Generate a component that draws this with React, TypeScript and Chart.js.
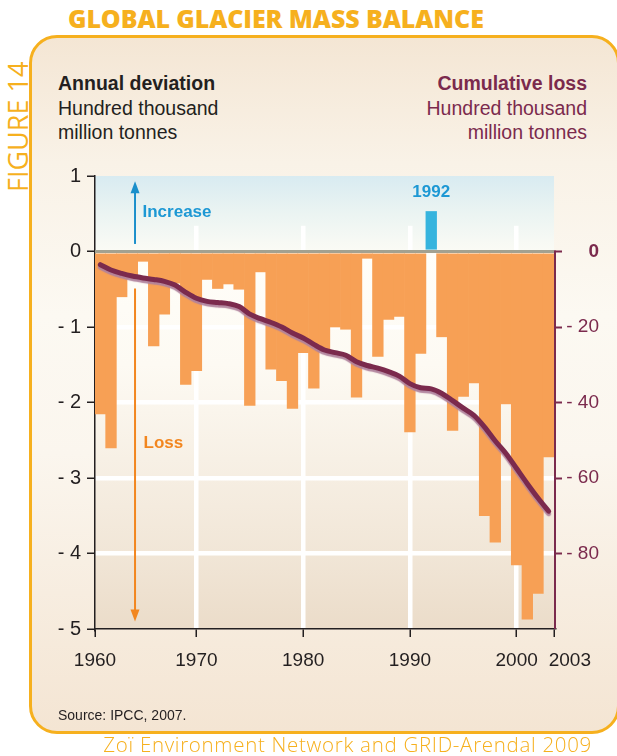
import React, { useEffect, useRef } from "react";
import { Chart, registerables } from "chart.js";

Chart.register(...registerables);

// ---------------- data ----------------
const years = [
  1961, 1962, 1963, 1964, 1965, 1966, 1967, 1968, 1969, 1970,
  1971, 1972, 1973, 1974, 1975, 1976, 1977, 1978, 1979, 1980,
  1981, 1982, 1983, 1984, 1985, 1986, 1987, 1988, 1989, 1990,
  1991, 1992, 1993, 1994, 1995, 1996, 1997, 1998, 1999, 2000,
  2001, 2002, 2003,
];

// Annual deviation, hundred thousand million tonnes (left axis)
const annualDeviation = [
  -2.15, -2.6, -0.6, -0.36, -0.13, -1.25, -0.83, -0.42, -1.76, -1.58,
  -0.37, -0.49, -0.43, -0.5, -2.04, -0.27, -1.56, -1.71, -2.08, -1.34,
  -1.81, -1.33, -1.0, -1.03, -1.93, -0.09, -1.39, -0.9, -0.86, -2.39,
  -1.35, 0.53, -1.13, -2.37, -1.92, -1.74, -3.5, -3.85, -2.02, -4.15,
  -4.87, -4.53, -2.72,
];

// Cumulative loss, hundred thousand million tonnes (right axis)
const cumulativeLoss = [
  -3.5, -4.9, -5.8, -6.5, -7.0, -7.4, -7.9, -8.9, -10.8, -12.4,
  -13.2, -13.5, -13.8, -14.6, -16.6, -17.8, -18.8, -20.0, -21.6, -22.9,
  -24.6, -26.1, -26.8, -27.5, -29.2, -30.2, -30.9, -31.8, -33.0, -35.0,
  -36.1, -36.4, -37.6, -39.5, -41.5, -43.4, -46.5, -50.2, -53.5, -57.5,
  -61.5, -65.3, -68.8,
];

const xTickValues = [1960.5, 1970, 1980, 1990, 2000, 2003.5];
const xTickLabels = ["1960", "1970", "1980", "1990", "2000", "      2003"];
const xGridYears = [1970, 1980, 1990, 2000];
const leftTicks = [1, 0, -1, -2, -3, -4, -5];
const leftGridValues = [-1, -2, -3, -4];
const rightTicks = [0, -20, -40, -60, -80];

// ---------------- styles ----------------
const FONT = "'Liberation Sans', Arial, Helvetica, sans-serif";
const GOLD = "#f6b01e";
const ORANGE = "#f7a055";
const BLUE_BAR = "#36b4de";
const BLUE_TEXT = "#1d98d4";
const LOSS_TEXT = "#f2861f";
const MAROON = "#7b2a4d";
const AXIS = "#231f20";

const fmtMinus = (v: number) => (v < 0 ? "- " + Math.abs(v) : String(v));

function topGradient(ctx: CanvasRenderingContext2D, top: number, bottom: number) {
  const g = ctx.createLinearGradient(0, top, 0, bottom);
  g.addColorStop(0, "#d8ebf1");
  g.addColorStop(0.5, "#ebf4f2");
  g.addColorStop(1, "#fbfbf5");
  return g;
}

const decorPlugin = {
  id: "decor",
  beforeDraw(chart: any) {
    const { ctx, chartArea: a, scales } = chart;
    const y0 = scales.y.getPixelForValue(0);
    ctx.save();
    ctx.fillStyle = topGradient(ctx, a.top, y0);
    ctx.fillRect(a.left, a.top, a.right - a.left, y0 - a.top);
    const g = ctx.createLinearGradient(0, y0, 0, a.bottom);
    g.addColorStop(0, "#fffef9");
    g.addColorStop(0.3, "#fdfaf3");
    g.addColorStop(0.55, "#f7f0e5");
    g.addColorStop(0.8, "#f1e6d7");
    g.addColorStop(1, "#ebdcc9");
    ctx.fillStyle = g;
    ctx.fillRect(a.left, y0, a.right - a.left, a.bottom - y0);
    ctx.restore();
  },
  beforeDatasetsDraw(chart: any) {
    // upper part of the "increase" band hides the vertical grid lines
    const { ctx, chartArea: a, scales } = chart;
    const y0 = scales.y.getPixelForValue(0);
    const yCut = scales.y.getPixelForValue(0.34);
    ctx.save();
    ctx.fillStyle = topGradient(ctx, a.top, y0);
    ctx.fillRect(a.left + 1, a.top, a.right - a.left - 1, yCut - a.top);
    ctx.restore();
  },
  beforeDatasetDraw(chart: any, args: any) {
    if (args.meta.type === "line") {
      const ctx = chart.ctx;
      ctx.save();
      ctx.shadowColor = "rgba(176,130,156,0.95)";
      ctx.shadowOffsetY = 2.5;
      ctx.shadowBlur = 1;
    }
  },
  afterDatasetDraw(chart: any, args: any) {
    if (args.meta.type === "line") chart.ctx.restore();
  },
  afterDatasetsDraw(chart: any) {
    const { ctx, chartArea: a, scales } = chart;
    const xs = scales.x;
    const ys = scales.y;
    const y0 = ys.getPixelForValue(0);
    ctx.save();
    // zero line
    ctx.strokeStyle = "#a3a190";
    ctx.lineWidth = 3;
    ctx.beginPath();
    ctx.moveTo(a.left, y0);
    ctx.lineTo(a.right, y0);
    ctx.stroke();

    const ax = xs.getPixelForValue(1964.25);
    // increase arrow
    const upBottom = ys.getPixelForValue(0.1);
    const upTip = ys.getPixelForValue(0.93);
    ctx.strokeStyle = "#1a8fcb";
    ctx.fillStyle = "#1a8fcb";
    ctx.lineWidth = 2;
    ctx.beginPath();
    ctx.moveTo(ax, upBottom);
    ctx.lineTo(ax, upTip + 10);
    ctx.stroke();
    ctx.beginPath();
    ctx.moveTo(ax, upTip);
    ctx.lineTo(ax - 4.5, upTip + 12);
    ctx.lineTo(ax + 4.5, upTip + 12);
    ctx.closePath();
    ctx.fill();

    // loss arrow
    const dnTop = ys.getPixelForValue(-0.49);
    const dnTip = ys.getPixelForValue(-4.9);
    ctx.strokeStyle = "#f2861f";
    ctx.fillStyle = "#f2861f";
    ctx.beginPath();
    ctx.moveTo(ax, dnTop);
    ctx.lineTo(ax, dnTip - 10);
    ctx.stroke();
    ctx.beginPath();
    ctx.moveTo(ax, dnTip);
    ctx.lineTo(ax - 4.5, dnTip - 12);
    ctx.lineTo(ax + 4.5, dnTip - 12);
    ctx.closePath();
    ctx.fill();

    // labels
    ctx.textBaseline = "middle";
    ctx.font = `bold 17px ${FONT}`;
    ctx.fillStyle = BLUE_TEXT;
    ctx.textAlign = "left";
    ctx.fillText("Increase", xs.getPixelForValue(1964.95), ys.getPixelForValue(0.52));
    ctx.textAlign = "center";
    ctx.fillText("1992", xs.getPixelForValue(1992), ys.getPixelForValue(0.79));
    ctx.fillStyle = LOSS_TEXT;
    ctx.textAlign = "left";
    ctx.fillText("Loss", xs.getPixelForValue(1965.05), ys.getPixelForValue(-2.54));
    ctx.restore();
  },
  afterDraw(chart: any) {
    const { ctx, chartArea: a, scales } = chart;
    const y0 = scales.y2.getPixelForValue(0);
    ctx.save();
    ctx.strokeStyle = MAROON;
    ctx.lineWidth = 2;
    ctx.beginPath();
    ctx.moveTo(a.right + 1, y0 - 1);
    ctx.lineTo(a.right + 1, a.bottom);
    ctx.stroke();
    ctx.restore();
  },
};

function GlacierChart() {
  const ref = useRef<HTMLCanvasElement | null>(null);
  useEffect(() => {
    if (!ref.current) return;
    const chart = new Chart(ref.current, {
      type: "bar",
      data: {
        datasets: [
          {
            type: "line",
            label: "Cumulative loss",
            data: years.map((yr, i) => ({ x: yr, y: cumulativeLoss[i] })),
            yAxisID: "y2",
            xAxisID: "x",
            borderColor: MAROON,
            borderWidth: 5,
            pointRadius: 0,
            cubicInterpolationMode: "monotone",
            borderCapStyle: "round",
            borderJoinStyle: "round",
            order: 0,
          } as any,
          {
            type: "bar",
            label: "Annual deviation",
            data: years.map((yr, i) => ({ x: yr, y: annualDeviation[i] })),
            yAxisID: "y",
            xAxisID: "x",
            backgroundColor: annualDeviation.map((v) => (v > 0 ? BLUE_BAR : ORANGE)),
            borderWidth: 0,
            barPercentage: 1,
            categoryPercentage: 1,
            order: 1,
          } as any,
        ],
      },
      options: {
        animation: false,
        responsive: false,
        events: [],
        layout: { padding: { left: 0, right: 18, top: 176, bottom: 67 } },
        plugins: { legend: { display: false }, tooltip: { enabled: false } },
        scales: {
          x: {
            type: "linear",
            min: 1960.5,
            max: 2003.5,
            offset: false,
            afterBuildTicks: (s: any) => {
              s.ticks = xTickValues.map((v) => ({ value: v }));
            },
            afterFit: (s: any) => {
              s.height = 60;
            },
            grid: {
              offset: false,
              color: (c: any) =>
                c.tick && xGridYears.includes(c.tick.value) ? "#ffffff" : "rgba(0,0,0,0)",
              lineWidth: 4.5,
              tickColor: AXIS,
              tickWidth: 1.5,
              tickLength: 8,
            },
            border: { color: AXIS, width: 1.5 },
            ticks: {
              callback: (_v: any, i: number) => xTickLabels[i],
              font: { family: FONT, size: 19 },
              color: AXIS,
              padding: 12,
              maxRotation: 0,
              autoSkip: false,
            },
          } as any,
          y: {
            type: "linear",
            position: "left",
            min: -5,
            max: 1,
            afterBuildTicks: (s: any) => {
              s.ticks = leftTicks.map((v) => ({ value: v }));
            },
            afterFit: (s: any) => {
              s.width = 95;
            },
            grid: {
              color: (c: any) =>
                c.tick && leftGridValues.includes(c.tick.value) ? "#ffffff" : "rgba(0,0,0,0)",
              lineWidth: 4.5,
              tickColor: AXIS,
              tickWidth: 1.5,
              tickLength: 8,
            },
            border: { color: AXIS, width: 1.5 },
            ticks: {
              callback: (v: any) => fmtMinus(Number(v)),
              font: { family: FONT, size: 20 },
              color: AXIS,
              padding: 6,
              autoSkip: false,
            },
          } as any,
          y2: {
            type: "linear",
            position: "right",
            min: -100,
            max: 20,
            afterBuildTicks: (s: any) => {
              s.ticks = rightTicks.map((v) => ({ value: v }));
            },
            afterFit: (s: any) => {
              s.width = 45;
            },
            grid: {
              drawOnChartArea: false,
              color: MAROON,
              tickColor: MAROON,
              tickWidth: 2,
              tickLength: 8,
            },
            border: { display: false },
            ticks: {
              callback: (v: any) => fmtMinus(Number(v)),
              font: (c: any) => ({
                family: FONT,
                size: 19,
                weight: c.tick && c.tick.value === 0 ? "bold" : "normal",
              }),
              color: MAROON,
              crossAlign: "far",
              padding: 4,
              autoSkip: false,
            },
          } as any,
        },
      },
      plugins: [decorPlugin],
    });
    return () => chart.destroy();
  }, []);
  return (
    <canvas
      ref={ref}
      width={617}
      height={756}
      style={{ position: "absolute", left: 0, top: 0, width: 617, height: 756 }}
    />
  );
}

export default function App() {
  const textBase: React.CSSProperties = {
    position: "absolute",
    fontFamily: FONT,
    fontSize: 19.5,
    lineHeight: "24.5px",
    whiteSpace: "nowrap",
    margin: 0,
  };
  return (
    <div
      style={{
        position: "absolute",
        left: 0,
        top: 0,
        width: 617,
        height: 756,
        overflow: "hidden",
        background: "#ffffff",
      }}
    >
      <div
        style={{
          position: "absolute",
          left: 29,
          top: 34.5,
          width: 591,
          height: 699,
          boxSizing: "border-box",
          border: `3px solid ${GOLD}`,
          borderRadius: 28,
          background:
            "linear-gradient(to bottom, #f4e6d4 0%, #f9f2e7 18%, #fcf9f2 40%, #fbf6ee 60%, #f7ede0 80%, #f4e5d3 100%)",
        }}
      />
      <div
        style={{
          position: "absolute",
          left: 68,
          top: 6,
          fontFamily: "'Open Sans', 'Noto Sans', sans-serif",
          fontWeight: 800,
          fontSize: 25,
          lineHeight: "24px",
          letterSpacing: -0.1,
          color: GOLD,
          whiteSpace: "nowrap",
        }}
      >
        GLOBAL GLACIER MASS BALANCE
      </div>
      <div
        style={{
          position: "absolute",
          left: 3.6,
          top: 192,
          transform: "rotate(-90deg)",
          transformOrigin: "0 0",
          fontFamily: "'Open Sans', 'Noto Sans', sans-serif",
          fontSize: 27,
          lineHeight: "27px",
          color: GOLD,
          whiteSpace: "nowrap",
        }}
      >
        FIGURE 14
      </div>
      <div style={{ ...textBase, left: 58, top: 71, color: AXIS }}>
        <div style={{ fontWeight: "bold" }}>Annual deviation</div>
        <div>Hundred thousand</div>
        <div>million tonnes</div>
      </div>
      <div style={{ ...textBase, right: 30, top: 71, color: MAROON, textAlign: "right" }}>
        <div style={{ fontWeight: "bold" }}>Cumulative loss</div>
        <div>Hundred thousand</div>
        <div>million tonnes</div>
      </div>
      <GlacierChart />
      <div
        style={{
          position: "absolute",
          left: 58,
          top: 707,
          fontFamily: FONT,
          fontSize: 14,
          lineHeight: "16px",
          color: AXIS,
          whiteSpace: "nowrap",
        }}
      >
        Source: IPCC, 2007.
      </div>
      <div
        style={{
          position: "absolute",
          right: 25,
          top: 734,
          fontFamily: "'Open Sans', 'Noto Sans', sans-serif",
          fontWeight: 300,
          fontSize: 20.5,
          lineHeight: "20px",
          letterSpacing: 0.7,
          color: GOLD,
          whiteSpace: "nowrap",
        }}
      >
        Zoï Environment Network and GRID-Arendal 2009
      </div>
    </div>
  );
}
